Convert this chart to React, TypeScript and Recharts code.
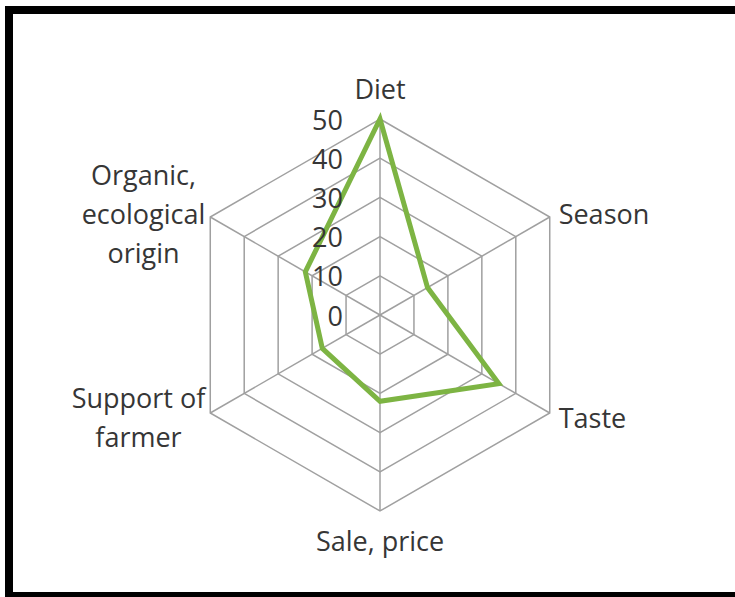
import {
  RadarChart,
  Radar,
  PolarGrid,
  PolarAngleAxis,
  PolarRadiusAxis,
} from "recharts";

const categories = [
  "Diet",
  "Season",
  "Taste",
  "Sale, price",
  "Support of farmer",
  "Organic, ecological origin",
];
const scores = [50, 14, 35, 22, 17, 22];
const radiusTicks = [0, 10, 20, 30, 40, 50];

// how the long labels break into lines
const labelLines: Record<string, string[]> = {
  "Support of farmer": ["Support of", "farmer"],
  "Organic, ecological origin": ["Organic,", "ecological", "origin"],
};

const FONT = '"Open Sans", sans-serif';
const FONT_SIZE = 27;
const LINE_H = 39;
const TEXT = "#363636";

let ctx: CanvasRenderingContext2D | null = null;
const measure = (s: string) => {
  if (!ctx) ctx = document.createElement("canvas").getContext("2d");
  if (!ctx) return s.length * FONT_SIZE * 0.55;
  ctx.font = `${FONT_SIZE}px "Open Sans"`;
  return ctx.measureText(s).width;
};

const AngleTick = (props: any) => {
  const { x, y, payload } = props;
  const lines = labelLines[payload.value] ?? [payload.value];
  const s = Math.sin((payload.coordinate * Math.PI) / 180);
  const c = Math.cos((payload.coordinate * Math.PI) / 180);
  let tx = x;
  let ty = y;
  let anchor: "start" | "middle" | "end" = "middle";
  if (s > 0.9) ty = y - 23;
  else if (s < -0.9) ty = y + 21;
  else if (c > 0) {
    tx = x + 2;
    anchor = "start";
  } else {
    const w = Math.max(...lines.map(measure));
    tx = x + 2 - w / 2;
  }
  return (
    <g>
      {lines.map((line: string, i: number) => (
        <text
          key={i}
          x={tx}
          y={ty + (i - (lines.length - 1) / 2) * LINE_H}
          textAnchor={anchor}
          dominantBaseline="central"
          fontFamily={FONT}
          fontSize={FONT_SIZE}
          fill={TEXT}
        >
          {line}
        </text>
      ))}
    </g>
  );
};

const RadiusTick = (props: any) => {
  const { x, y, payload } = props;
  return (
    <text
      x={x - 37}
      y={y}
      textAnchor="end"
      dominantBaseline="central"
      fontFamily={FONT}
      fontSize={FONT_SIZE}
      fill={TEXT}
    >
      {payload.value}
    </text>
  );
};

const data = categories.map((name, i) => ({ name, score: scores[i] }));

export default function App() {
  return (
    <div
      style={{
        position: "fixed",
        left: 0,
        top: 0,
        width: 735,
        height: 597,
        overflow: "hidden",
        background: "#fff",
      }}
    >
      <div
        style={{
          position: "absolute",
          left: 5,
          top: 6,
          width: 900,
          height: 594,
          boxSizing: "border-box",
          borderTop: "8px solid #000",
          borderLeft: "8px solid #000",
          borderBottom: "8px solid #000",
        }}
      />
      <div style={{ position: "absolute", left: 0, top: 0 }}>
        <RadarChart
          width={735}
          height={597}
          data={data}
          cx={380}
          cy={315}
          outerRadius={196}
          startAngle={90}
          endAngle={-270}
        >
          <PolarGrid gridType="polygon" stroke="#a0a0a0" strokeWidth={1.5} />
          <PolarAngleAxis
            dataKey="name"
            tick={<AngleTick />}
            tickLine={false}
            axisLine={false}
          />
          <Radar
            dataKey="score"
            stroke="#7db443"
            strokeWidth={5}
            fill="none"
            fillOpacity={0}
            dot={false}
            isAnimationActive={false}
          />
          <PolarRadiusAxis
            angle={90}
            domain={[0, 50]}
            ticks={radiusTicks}
            tickCount={6}
            axisLine={false}
            tick={<RadiusTick />}
          />
        </RadarChart>
      </div>
    </div>
  );
}
